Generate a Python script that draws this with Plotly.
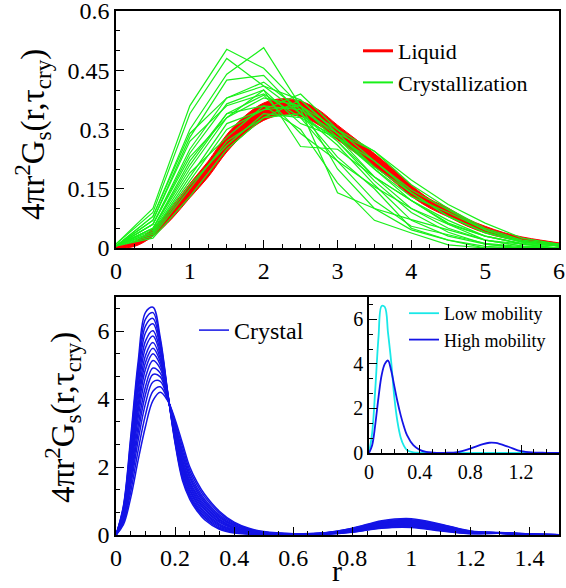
import plotly.graph_objects as go

# ---------------- data: top panel ----------------
r_cryst = [0, 0.5, 1.0, 1.5, 2.0, 2.5, 3.0, 3.5, 4.0, 4.5, 5.0, 5.5, 6.0]
crystallization_curves = [
    [0.01, 0.10, 0.36, 0.503, 0.455, 0.36, 0.27, 0.17, 0.09, 0.04, 0.01, 0.0, 0.0],
    [0.01, 0.09, 0.34, 0.48, 0.41, 0.34, 0.23, 0.15, 0.05, 0.02, 0.0, 0.0, 0.0],
    [0.005, 0.08, 0.30, 0.44, 0.507, 0.36, 0.28, 0.18, 0.10, 0.05, 0.02, 0.005, 0.0],
    [0.005, 0.07, 0.28, 0.425, 0.437, 0.34, 0.26, 0.16, 0.07, 0.03, 0.01, 0.0, 0.0],
    [0.005, 0.06, 0.25, 0.38, 0.41, 0.375, 0.29, 0.20, 0.12, 0.06, 0.02, 0.01, 0.0],
    [0.005, 0.06, 0.24, 0.365, 0.40, 0.315, 0.28, 0.22, 0.14, 0.08, 0.04, 0.015, 0.005],
    [0.005, 0.05, 0.22, 0.34, 0.387, 0.29, 0.22, 0.155, 0.10, 0.06, 0.03, 0.01, 0.0],
    [0.005, 0.05, 0.20, 0.33, 0.40, 0.257, 0.25, 0.18, 0.12, 0.07, 0.03, 0.01, 0.005],
    [0.005, 0.04, 0.18, 0.315, 0.35, 0.39, 0.30, 0.245, 0.172, 0.11, 0.063, 0.025, 0.01],
    [0.005, 0.04, 0.17, 0.30, 0.35, 0.36, 0.30, 0.22, 0.147, 0.097, 0.046, 0.017, 0.005],
    [0.005, 0.03, 0.15, 0.27, 0.33, 0.375, 0.29, 0.205, 0.14, 0.08, 0.038, 0.015, 0.005],
    [0.005, 0.025, 0.13, 0.25, 0.33, 0.34, 0.27, 0.18, 0.12, 0.063, 0.03, 0.012, 0.005],
    [0.005, 0.07, 0.27, 0.36, 0.39, 0.33, 0.22, 0.12, 0.055, 0.034, 0.012, 0.003, 0.0],
    [0.005, 0.06, 0.23, 0.33, 0.38, 0.36, 0.20, 0.10, 0.046, 0.02, 0.004, 0.0, 0.0],
    [0.005, 0.05, 0.21, 0.34, 0.36, 0.30, 0.165, 0.07, 0.038, 0.008, 0.0, 0.0, 0.0],
    [0.005, 0.08, 0.29, 0.38, 0.42, 0.35, 0.14, 0.10, 0.072, 0.046, 0.02, 0.005, 0.0],
    [0.005, 0.045, 0.19, 0.28, 0.36, 0.35, 0.29, 0.245, 0.16, 0.10, 0.05, 0.02, 0.01],
    [0.005, 0.035, 0.16, 0.26, 0.34, 0.33, 0.28, 0.20, 0.13, 0.09, 0.046, 0.017, 0.008],
]

r_liquid = [0, 0.25, 0.5, 0.75, 1.0, 1.25, 1.5, 1.75, 2.0, 2.25, 2.5, 2.75, 3.0,
            3.25, 3.5, 3.75, 4.0, 4.25, 4.5, 4.75, 5.0, 5.25, 5.5, 5.75, 6.0]
liquid_low = [0.0, 0.004, 0.03, 0.073, 0.127, 0.18, 0.243, 0.29, 0.323, 0.337, 0.333, 0.311, 0.274,
              0.24, 0.206, 0.17, 0.131, 0.101, 0.079, 0.056, 0.038, 0.026, 0.017, 0.01, 0.005]
liquid_high = [0.004, 0.016, 0.05, 0.102, 0.163, 0.22, 0.287, 0.335, 0.367, 0.378, 0.372, 0.349, 0.311,
               0.275, 0.239, 0.2, 0.159, 0.124, 0.101, 0.074, 0.055, 0.039, 0.028, 0.02, 0.013]

# ---------------- data: bottom panel ----------------
r_crystal = [0, 0.025, 0.05, 0.075, 0.1, 0.125, 0.15, 0.175, 0.2, 0.225, 0.25, 0.275, 0.3,
             0.35, 0.4, 0.45, 0.5, 0.6, 0.7, 0.8, 0.9, 1.0, 1.1, 1.2, 1.3, 1.4, 1.5]
crystal_curves = [
    [0, 0.85, 2.9, 5.1, 6.55, 6.7, 5.8, 4.2, 2.7, 1.6, 1.05, 0.7, 0.45,
     0.17, 0.06, 0.025, 0.012, 0.01, 0.02, 0.08, 0.2, 0.22, 0.12, 0.04, 0.05, 0.01, 0.005],
    [0, 0.82, 2.79, 4.93, 6.35, 6.54, 5.70, 4.19, 2.74, 1.67, 1.11, 0.75, 0.50,
     0.20, 0.08, 0.035, 0.017, 0.012, 0.022, 0.087, 0.21, 0.24, 0.13, 0.045, 0.05, 0.011, 0.005],
    [0, 0.78, 2.68, 4.75, 6.15, 6.37, 5.61, 4.17, 2.78, 1.73, 1.16, 0.80, 0.54,
     0.23, 0.10, 0.046, 0.023, 0.014, 0.025, 0.095, 0.23, 0.25, 0.145, 0.05, 0.052, 0.012, 0.005],
    [0, 0.75, 2.58, 4.58, 5.95, 6.21, 5.51, 4.16, 2.83, 1.80, 1.22, 0.85, 0.59,
     0.27, 0.12, 0.057, 0.028, 0.015, 0.027, 0.10, 0.24, 0.27, 0.16, 0.054, 0.054, 0.014, 0.006],
    [0, 0.71, 2.45, 4.38, 5.71, 6.01, 5.4, 4.14, 2.88, 1.88, 1.29, 0.91, 0.64,
     0.30, 0.14, 0.07, 0.034, 0.018, 0.03, 0.11, 0.26, 0.29, 0.17, 0.06, 0.055, 0.015, 0.006],
    [0, 0.68, 2.34, 4.2, 5.51, 5.85, 5.3, 4.12, 2.92, 1.94, 1.34, 0.96, 0.68,
     0.33, 0.16, 0.079, 0.039, 0.019, 0.032, 0.117, 0.27, 0.30, 0.18, 0.065, 0.056, 0.016, 0.007],
    [0, 0.64, 2.22, 4.0, 5.28, 5.66, 5.19, 4.1, 2.97, 2.02, 1.41, 1.02, 0.74,
     0.37, 0.18, 0.09, 0.045, 0.021, 0.035, 0.125, 0.285, 0.32, 0.195, 0.07, 0.058, 0.017, 0.007],
    [0, 0.61, 2.11, 3.82, 5.08, 5.49, 5.1, 4.09, 3.01, 2.08, 1.47, 1.07, 0.78,
     0.40, 0.20, 0.10, 0.05, 0.023, 0.038, 0.133, 0.30, 0.33, 0.21, 0.075, 0.059, 0.019, 0.007],
    [0, 0.575, 2.0, 3.65, 4.88, 5.33, 5.0, 4.08, 3.05, 2.15, 1.53, 1.13, 0.83,
     0.44, 0.22, 0.11, 0.056, 0.025, 0.04, 0.14, 0.31, 0.35, 0.22, 0.08, 0.06, 0.02, 0.008],
    [0, 0.54, 1.87, 3.45, 4.64, 5.13, 4.89, 4.06, 3.1, 2.23, 1.59, 1.18, 0.88,
     0.47, 0.24, 0.125, 0.062, 0.027, 0.043, 0.148, 0.325, 0.37, 0.23, 0.086, 0.061, 0.021, 0.008],
    [0, 0.49, 1.73, 3.22, 4.37, 4.91, 4.76, 4.04, 3.16, 2.32, 1.67, 1.25, 0.94,
     0.51, 0.27, 0.14, 0.07, 0.03, 0.046, 0.16, 0.34, 0.39, 0.25, 0.09, 0.063, 0.023, 0.008],
    [0, 0.45, 1.6, 3.01, 4.14, 4.72, 4.65, 4.02, 3.2, 2.39, 1.73, 1.31, 0.99,
     0.55, 0.29, 0.15, 0.075, 0.032, 0.049, 0.166, 0.36, 0.41, 0.26, 0.098, 0.064, 0.024, 0.009],
    [0, 0.41, 1.46, 2.78, 3.87, 4.5, 4.52, 4.0, 3.26, 2.48, 1.81, 1.38, 1.05,
     0.59, 0.32, 0.165, 0.082, 0.034, 0.052, 0.176, 0.376, 0.428, 0.28, 0.104, 0.066, 0.026, 0.009],
    [0, 0.36, 1.28, 2.49, 3.54, 4.23, 4.36, 3.98, 3.33, 2.59, 1.9, 1.47, 1.13,
     0.65, 0.35, 0.18, 0.09, 0.037, 0.056, 0.19, 0.40, 0.45, 0.30, 0.11, 0.068, 0.028, 0.01],
    [0, 0.3, 1.1, 2.2, 3.2, 3.95, 4.2, 3.95, 3.4, 2.7, 2.0, 1.55, 1.2,
     0.7, 0.38, 0.2, 0.1, 0.04, 0.06, 0.2, 0.42, 0.48, 0.32, 0.12, 0.07, 0.03, 0.01],
]

r_inset = [0, 0.025, 0.05, 0.075, 0.1, 0.125, 0.15, 0.175, 0.2, 0.225, 0.25, 0.275, 0.3,
           0.35, 0.4, 0.45, 0.5, 0.6, 0.7, 0.8, 0.9, 0.95, 1.0, 1.1, 1.2, 1.3, 1.4, 1.5]
low_mobility = [0, 0.9, 2.9, 5.2, 6.6, 6.55, 5.4, 4.1, 2.5, 1.4, 0.7, 0.33, 0.13,
                0.03, 0.01, 0.0, 0.0, 0.0, 0.0, 0.0, 0.0, 0.0, 0.0, 0.0, 0.0, 0.0, 0.0, 0.0]
high_mobility = [0, 0.35, 1.3, 2.5, 3.5, 4.0, 4.15, 3.7, 3.0, 2.3, 1.7, 1.2, 0.8,
                 0.35, 0.14, 0.05, 0.02, 0.01, 0.04, 0.2, 0.4, 0.46, 0.45, 0.28, 0.08, 0.02, 0.01, 0.005]

# ---------------- styles ----------------
FONT = "Times New Roman"
RED = "#ff0000"
GREEN = "#19f019"
BLUE = "#1414e6"
CYAN = "#19e8e8"

fig = go.Figure()

fig.add_trace(go.Scatter(x=r_liquid, y=liquid_low, mode="lines", line=dict(color=RED, width=1, shape="spline"),
                         showlegend=False, xaxis="x", yaxis="y", hoverinfo="skip"))
fig.add_trace(go.Scatter(x=r_liquid, y=liquid_high, mode="lines", line=dict(color=RED, width=1, shape="spline"),
                         fill="tonexty", fillcolor=RED, showlegend=False, xaxis="x", yaxis="y", hoverinfo="skip"))

for ys in crystallization_curves:
    fig.add_trace(go.Scatter(x=r_cryst, y=ys, mode="lines", line=dict(color=GREEN, width=1.2),
                             showlegend=False, xaxis="x", yaxis="y", hoverinfo="skip"))

fig.add_trace(go.Scatter(x=[None], y=[None], mode="lines", line=dict(color=RED, width=3),
                         name="Liquid", legend="legend", legendrank=1, xaxis="x", yaxis="y"))
fig.add_trace(go.Scatter(x=[None], y=[None], mode="lines", line=dict(color=GREEN, width=2),
                         name="Crystallization", legend="legend", legendrank=2, xaxis="x", yaxis="y"))

for i, ys in enumerate(crystal_curves):
    fig.add_trace(go.Scatter(x=r_crystal, y=ys, mode="lines", line=dict(color=BLUE, width=1.5, shape="spline"),
                             name="Crystal", legend="legend2", legendgroup="xt", showlegend=(i == 0),
                             xaxis="x2", yaxis="y2", hoverinfo="skip"))

fig.add_trace(go.Scatter(x=r_inset, y=low_mobility, mode="lines", line=dict(color=CYAN, width=1.8, shape="spline"),
                         name="Low mobility", legend="legend3", legendrank=1, xaxis="x3", yaxis="y3"))
fig.add_trace(go.Scatter(x=r_inset, y=high_mobility, mode="lines", line=dict(color=BLUE, width=1.8, shape="spline"),
                         name="High mobility", legend="legend3", legendrank=2, xaxis="x3", yaxis="y3"))

W, H = 566, 588
ML, MR, MT, MB = 116, 7, 11, 53
PW, PH = W - ML - MR, H - MT - MB


def py(px):
    return (H - MB - px) / PH


def pxx(px):
    return (px - ML) / PW


def axis_common(size):
    return dict(showline=True, linecolor="black", linewidth=1.5, mirror=True, ticks="inside",
                ticklen=8, tickwidth=1.2, tickcolor="black", showgrid=False, zeroline=False,
                automargin=False, ticklabeloverflow="allow",
                tickfont=dict(family=FONT, size=size, color="black"))


fig.update_layout(
    template="none",
    font=dict(family=FONT, color="black"),
    width=W, height=H,
    margin=dict(l=ML, r=MR, t=MT, b=MB, autoexpand=False),
    paper_bgcolor="white", plot_bgcolor="white",
    showlegend=True,
    xaxis=dict(domain=[0, 1], anchor="y", range=[0, 6], dtick=1,
               minor=dict(dtick=0.25, ticks="inside", ticklen=4, tickcolor="black"),
               **axis_common(24)),
    yaxis=dict(domain=[py(248), 1], anchor="x", range=[0, 0.6],
               tickvals=[0, 0.15, 0.3, 0.45, 0.6], ticktext=["0", "0.15", "0.3", "0.45", "0.6"],
               minor=dict(dtick=0.05, ticks="inside", ticklen=4, tickcolor="black"),
               **axis_common(24)),
    xaxis2=dict(domain=[0, 1], anchor="y2", range=[0, 1.5], dtick=0.2,
                minor=dict(dtick=0.05, ticks="inside", ticklen=4, tickcolor="black"),
                **axis_common(24)),
    yaxis2=dict(domain=[0, py(297)], anchor="x2", range=[0, 7], dtick=2,
                minor=dict(dtick=2 / 3, ticks="inside", ticklen=4, tickcolor="black"),
                **axis_common(24)),
    xaxis3=dict(domain=[pxx(369), 1], anchor="y3", range=[0, 1.5], dtick=0.4,
                minor=dict(dtick=0.1, ticks="inside", ticklen=4, tickcolor="black"),
                **axis_common(20)),
    yaxis3=dict(domain=[py(453), py(297)], anchor="x3", range=[0, 7], dtick=2,
                minor=dict(dtick=2 / 3, ticks="inside", ticklen=4, tickcolor="black"),
                **axis_common(20)),
    legend=dict(x=pxx(358), y=py(30), xanchor="left", yanchor="top", bgcolor="rgba(0,0,0,0)",
                traceorder="normal", font=dict(family=FONT, size=22, color="black")),
    legend2=dict(x=pxx(194), y=py(308), xanchor="left", yanchor="top", bgcolor="rgba(0,0,0,0)",
                 font=dict(family=FONT, size=24, color="black")),
    legend3=dict(x=pxx(404), y=py(295), xanchor="left", yanchor="top", bgcolor="rgba(0,0,0,0)",
                 traceorder="normal", font=dict(family=FONT, size=18, color="black")),
)

ytitle = "4πr<sup>2</sup>G<sub>s</sub>(r,τ<sub>cry</sub>)"
fig.add_annotation(text=ytitle, xref="paper", yref="paper", x=pxx(33), y=py(135), textangle=-90,
                   showarrow=False, xanchor="center", yanchor="middle",
                   font=dict(family=FONT, size=33, color="black"))
fig.add_annotation(text=ytitle, xref="paper", yref="paper", x=pxx(62), y=py(418), textangle=-90,
                   showarrow=False, xanchor="center", yanchor="middle",
                   font=dict(family=FONT, size=33, color="black"))
fig.add_annotation(text="r", xref="paper", yref="paper", x=pxx(337), y=py(570),
                   showarrow=False, xanchor="center", yanchor="middle",
                   font=dict(family=FONT, size=30, color="black"))

fig.write_html("out.html", config={"displayModeBar": False},
               post_script="document.body.style.margin='0px';")
